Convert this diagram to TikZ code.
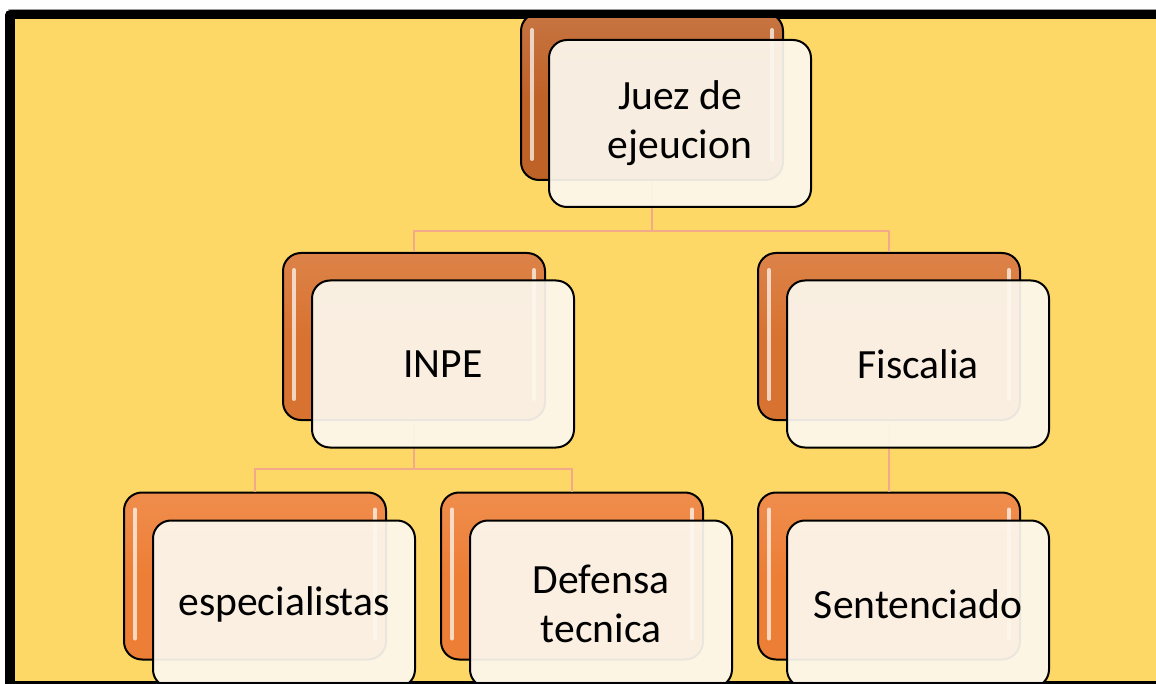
\documentclass[tikz,border=0pt]{standalone}
\usepackage{fontspec}
\setmainfont{Carlito}
\usetikzlibrary{positioning}
\definecolor{bgyellow}{RGB}{253,216,103}
\definecolor{rootorange}{RGB}{191,98,40}
\definecolor{midorange}{RGB}{216,114,48}
\definecolor{leaforange}{RGB}{237,126,53}
\definecolor{cardcream}{RGB}{252,248,238}
\definecolor{linksalmon}{RGB}{243,170,138}

\begin{document}
\begin{tikzpicture}
	[x=1pt, y=-1pt,
	 backbox/.style={rounded corners=18pt, draw=black, line width=2pt,
		minimum width=262pt, minimum height=167pt,
		top color=#1!88!white, bottom color=#1, middle color=#1},
	 card/.style={rounded corners=18pt, draw=black, line width=2pt,
		minimum width=262pt, minimum height=167pt,
		fill=cardcream, fill opacity=0.93, text opacity=1, align=center,
		font=\fontsize{41.6}{49}\selectfont},
	 gloss/.style={white, line width=4pt, line cap=round, opacity=0.7},
	 link/.style={linksalmon, line width=2.5pt}]
	\useasboundingbox (0,0) rectangle (1156,684);
	\fill[white] (0,0) rectangle (1156,684);
	\draw[black!30, line width=0.8pt] (8,9.3) -- (1156,9.3);
	% frame
	\fill[black, rounded corners=5pt] (5,10) rectangle (1170,700);
	\fill[bgyellow] (15,19) rectangle (1156,681);
	\begin{scope}
		\clip (15,19) rectangle (1156,681);
		% back boxes
		\node[backbox=rootorange] (juezB) at (652,96.5) {};
		\node[backbox=midorange] (inpeB) at (414,336.5) {};
		\node[backbox=midorange] (fiscB) at (889,336.5) {};
		\node[backbox=leaforange] (espB) at (255,576) {};
		\node[backbox=leaforange] (defB) at (572,576) {};
		\node[backbox=leaforange] (sentB) at (889,576) {};
		\foreach \b in {juezB,inpeB,fiscB,espB,defB,sentB} {
			\draw[gloss] ([shift={(12,18)}]\b.north west) -- ([shift={(12,-22)}]\b.south west);
			\draw[gloss] ([shift={(-12,18)}]\b.north east) -- ([shift={(-12,-22)}]\b.south east);
		}
		% links
		\draw[link] (juezB.south) -- ++(0,50) -| (inpeB.north);
		\draw[link] (juezB.south) -- ++(0,50) -| (fiscB.north);
		\draw[link] (inpeB.south) -- ++(0,48) -| (espB.north);
		\draw[link] (inpeB.south) -- ++(0,48) -| (defB.north);
		\draw[link] (fiscB.south) -- (sentB.north);
		% front cards
		\node[card] (juez) at ([shift={(28,27)}]juezB.center) {Juez de\\ejeucion};
		\node[card] (inpe) at ([shift={(29,27.5)}]inpeB.center) {INPE};
		\node[card] (fisc) at ([shift={(29,27.5)}]fiscB.center) {Fiscalia};
		\node[card] (esp) at ([shift={(29,28)}]espB.center) {especialistas};
		\node[card] (def) at ([shift={(29,28)}]defB.center) {Defensa\\tecnica};
		\node[card] (sent) at ([shift={(29,28)}]sentB.center) {Sentenciado};
	\end{scope}
\end{tikzpicture}
\end{document}
